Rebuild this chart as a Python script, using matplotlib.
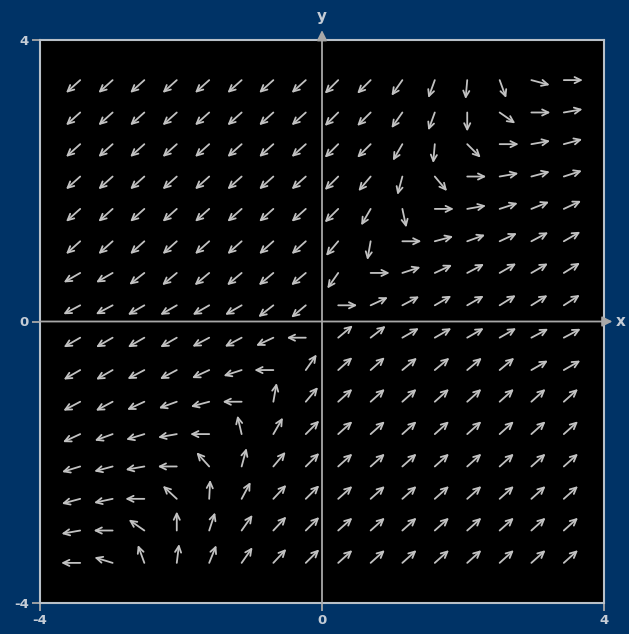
import numpy as np
import matplotlib.pyplot as plt

# grid of arrow tails (same values on both axes), rows listed top to bottom
xs = [-3.43, -2.97, -2.52, -2.06, -1.6, -1.14, -0.69, -0.23,
      0.23, 0.69, 1.14, 1.6, 2.06, 2.52, 2.97, 3.43]
ys = xs[::-1]

# arrow directions in degrees (row 0 = top)
angles = [
    [-138, -138, -138, -138, -138, -138, -138, -138, -135, -135, -125, -110, -95, -70, -15, 0],
    [-138, -138, -138, -138, -138, -138, -138, -138, -135, -135, -125, -110, -90, -35, 0, 10],
    [-138, -138, -138, -138, -138, -138, -138, -138, -135, -135, -120, -95, -45, 0, 10, 15],
    [-138, -138, -138, -138, -138, -138, -138, -138, -135, -130, -105, -50, 0, 10, 15, 18],
    [-138, -138, -138, -138, -138, -138, -138, -138, -135, -120, -78, 0, 10, 18, 22, 25],
    [-138, -138, -138, -138, -138, -138, -138, -138, -130, -100, 0, 15, 20, 25, 28, 30],
    [-150, -150, -142, -140, -140, -140, -140, -140, -125, 0, 18, 25, 28, 30, 30, 32],
    [-152, -152, -150, -150, -150, -150, -142, -140, 0, 25, 28, 30, 30, 32, 32, 33],
    [-150, -150, -150, -150, -152, -152, -155, 180, 40, 38, 30, 30, 30, 30, 28, 28],
    [-150, -150, -152, -152, -155, -162, 180, 55, 42, 42, 40, 40, 40, 40, 30, 30],
    [-152, -152, -155, -160, -165, 180, 80, 50, 42, 42, 42, 42, 42, 42, 42, 42],
    [-155, -160, -163, -170, 180, 103, 60, 45, 42, 42, 42, 42, 42, 42, 42, 42],
    [-163, -165, -170, 180, 132, 75, 50, 45, 42, 42, 42, 42, 42, 42, 42, 42],
    [-165, -168, 180, 137, 87, 62, 47, 45, 42, 42, 42, 42, 42, 42, 42, 42],
    [-170, 180, 145, 90, 72, 55, 47, 45, 42, 42, 42, 42, 42, 42, 42, 42],
    [180, 163, 110, 83, 68, 55, 47, 45, 42, 42, 42, 42, 42, 42, 42, 42],
]

bg = '#003366'
arrow_col = '#c2c2c2'
axis_col = '#a8a8a8'
text_col = '#c4ccd6'

fig = plt.figure(figsize=(6.29, 6.34), dpi=100, facecolor=bg)
ax = fig.add_axes([40/629, 31/634, 564/629, 563/634])
ax.set_facecolor('black')
ax.set_xlim(-4, 4)
ax.set_ylim(-4, 4)

L = 0.27
for i, yv in enumerate(ys):
    for j, xv in enumerate(xs):
        a = np.deg2rad(angles[i][j])
        ax.annotate('', xy=(xv + L*np.cos(a), yv + L*np.sin(a)), xytext=(xv, yv),
                    arrowprops=dict(arrowstyle='->,head_length=0.45,head_width=0.22',
                                    color=arrow_col, lw=1.3, shrinkA=0, shrinkB=0))

# axes through the origin
ax.annotate('', xy=(4.12, 0), xytext=(-4, 0), annotation_clip=False,
            arrowprops=dict(arrowstyle='-|>,head_length=0.6,head_width=0.3',
                            color=axis_col, lw=1.3, shrinkA=0, shrinkB=0))
ax.annotate('', xy=(0, 4.14), xytext=(0, -4), annotation_clip=False,
            arrowprops=dict(arrowstyle='-|>,head_length=0.6,head_width=0.3',
                            color=axis_col, lw=1.3, shrinkA=0, shrinkB=0))
ax.text(4.16, 0, 'x', color=text_col, fontsize=11, fontweight='bold',
        ha='left', va='center', clip_on=False)
ax.text(0, 4.34, 'y', color=text_col, fontsize=11, fontweight='bold',
        ha='center', va='center', clip_on=False)

ax.set_xticks([-4, 0, 4])
ax.set_xticklabels(['-4', '0', '4'])
ax.set_yticks([-4, 0, 4])
ax.set_yticklabels(['-4', '0', '4'])
ax.tick_params(length=6, width=1.3, color=axis_col, labelcolor=text_col,
               labelsize=9.5, pad=2)
for lab in ax.get_xticklabels() + ax.get_yticklabels():
    lab.set_fontweight('bold')
for s in ax.spines.values():
    s.set_color('#b8c0c8')
    s.set_linewidth(1.5)

fig.savefig('out.png', dpi=100, facecolor=bg)
